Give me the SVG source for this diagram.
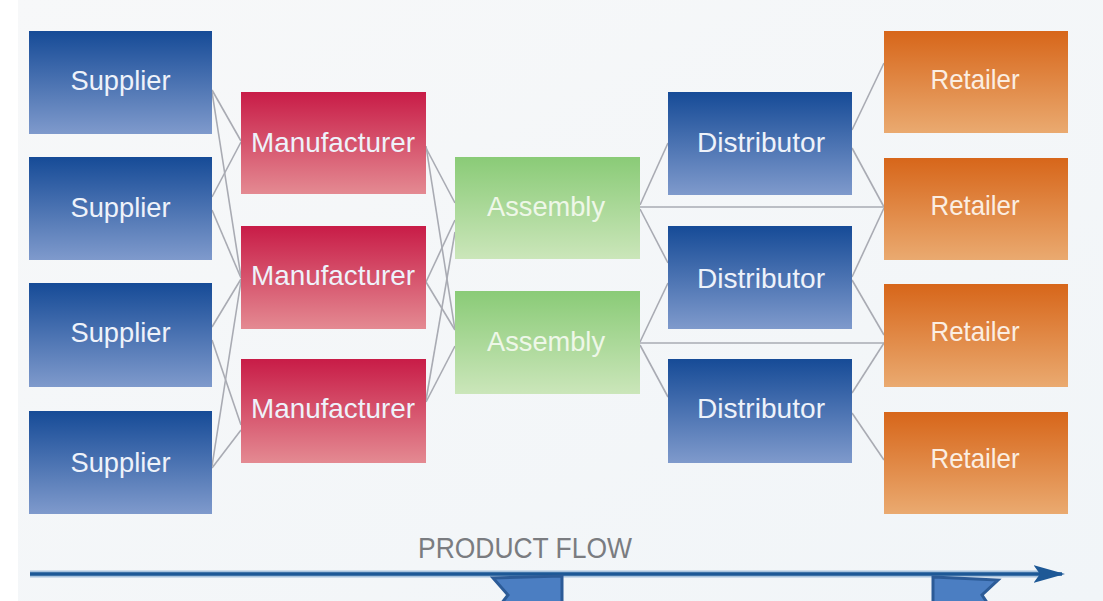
<svg xmlns="http://www.w3.org/2000/svg" width="1103" height="601" viewBox="0 0 1103 601">
<defs>
<linearGradient id="gBlue" x1="0" y1="0" x2="0" y2="1"><stop offset="0" stop-color="#164b97"/><stop offset="1" stop-color="#7f9acc"/></linearGradient>
<linearGradient id="gRed" x1="0" y1="0" x2="0" y2="1"><stop offset="0" stop-color="#c81c47"/><stop offset="1" stop-color="#e48a92"/></linearGradient>
<linearGradient id="gGreen" x1="0" y1="0" x2="0" y2="1"><stop offset="0" stop-color="#8acb77"/><stop offset="1" stop-color="#cbe6ba"/></linearGradient>
<linearGradient id="gOrange" x1="0" y1="0" x2="0" y2="1"><stop offset="0" stop-color="#d7661a"/><stop offset="1" stop-color="#eaaa70"/></linearGradient>
<linearGradient id="gBg" x1="0" y1="0" x2="1" y2="1"><stop offset="0" stop-color="#f7f8f9"/><stop offset="1" stop-color="#f1f5f8"/></linearGradient>
<marker id="arrowHead" viewBox="0 0 10 10" refX="9" refY="5" markerWidth="9" markerHeight="5" markerUnits="strokeWidth" orient="auto" preserveAspectRatio="none"><path d="M0,0 L10,5 L0,10 L2,5 Z" fill="#1d5896"/></marker>
</defs>
<style>
.box{stroke:none}
.blue{fill:url(#gBlue)}
.red{fill:url(#gRed)}
.green{fill:url(#gGreen)}
.orange{fill:url(#gOrange)}
.lbl{font-family:"Liberation Sans",Arial,sans-serif;font-size:28px;fill:#eef2fa;text-anchor:middle}
.lblG{fill:#eef7e8}
.lblO{fill:#fbeee2}
.conn line{stroke:#a9abb3;stroke-width:1.6;fill:none}
.ribbon{fill:#4b7ec2;stroke:#2c5b97;stroke-width:3;stroke-linejoin:miter}
</style>
<rect x="0" y="0" width="1103" height="601" fill="url(#gBg)"/>
<rect x="0" y="0" width="18" height="601" fill="#ffffff"/>

<g id="connectors" class="conn">
<line x1="212" y1="90" x2="241" y2="141"/>
<line x1="212" y1="92" x2="241" y2="277"/>
<line x1="212" y1="197" x2="241" y2="142"/>
<line x1="212" y1="210" x2="241" y2="278"/>
<line x1="212" y1="327" x2="241" y2="279"/>
<line x1="212" y1="340" x2="241" y2="425"/>
<line x1="212" y1="468" x2="241" y2="430"/>
<line x1="212" y1="466" x2="241" y2="281"/>

<line x1="426" y1="148" x2="455" y2="203"/>
<line x1="426" y1="146" x2="455" y2="330"/>
<line x1="426" y1="282" x2="455" y2="220"/>
<line x1="426" y1="282" x2="455" y2="330"/>
<line x1="426" y1="400" x2="455" y2="232"/>
<line x1="426" y1="402" x2="455" y2="346"/>

<line x1="640" y1="205" x2="668" y2="143"/>
<line x1="640" y1="207" x2="884" y2="207"/>
<line x1="640" y1="209" x2="668" y2="263"/>
<line x1="640" y1="342" x2="668" y2="283"/>
<line x1="640" y1="343" x2="884" y2="343"/>
<line x1="640" y1="345" x2="668" y2="397"/>

<line x1="852" y1="130" x2="884" y2="63"/>
<line x1="852" y1="148" x2="884" y2="207"/>
<line x1="852" y1="277" x2="884" y2="208"/>
<line x1="852" y1="280" x2="884" y2="335"/>
<line x1="852" y1="393" x2="884" y2="343"/>
<line x1="852" y1="413" x2="884" y2="460"/>
</g>

<g id="supplier1"><rect class="box blue" x="29" y="31" width="183" height="103"/><text class="lbl" x="120.5" y="90" textLength="100" lengthAdjust="spacingAndGlyphs">Supplier</text></g>
<g id="supplier2"><rect class="box blue" x="29" y="157" width="183" height="103"/><text class="lbl" x="120.5" y="217" textLength="100" lengthAdjust="spacingAndGlyphs">Supplier</text></g>
<g id="supplier3"><rect class="box blue" x="29" y="283" width="183" height="104"/><text class="lbl" x="120.5" y="342" textLength="100" lengthAdjust="spacingAndGlyphs">Supplier</text></g>
<g id="supplier4"><rect class="box blue" x="29" y="411" width="183" height="103"/><text class="lbl" x="120.5" y="472" textLength="100" lengthAdjust="spacingAndGlyphs">Supplier</text></g>

<g id="manufacturer1"><rect class="box red" x="241" y="92" width="185" height="102"/><text class="lbl" x="333" y="152" textLength="164" lengthAdjust="spacingAndGlyphs">Manufacturer</text></g>
<g id="manufacturer2"><rect class="box red" x="241" y="226" width="185" height="103"/><text class="lbl" x="333" y="285" textLength="164" lengthAdjust="spacingAndGlyphs">Manufacturer</text></g>
<g id="manufacturer3"><rect class="box red" x="241" y="359" width="185" height="104"/><text class="lbl" x="333" y="418" textLength="164" lengthAdjust="spacingAndGlyphs">Manufacturer</text></g>

<g id="assembly1"><rect class="box green" x="455" y="157" width="185" height="102"/><text class="lbl lblG" x="546" y="216" textLength="118" lengthAdjust="spacingAndGlyphs">Assembly</text></g>
<g id="assembly2"><rect class="box green" x="455" y="291" width="185" height="103"/><text class="lbl lblG" x="546" y="351" textLength="118" lengthAdjust="spacingAndGlyphs">Assembly</text></g>

<g id="distributor1"><rect class="box blue" x="668" y="92" width="184" height="103"/><text class="lbl" x="761" y="152" textLength="128" lengthAdjust="spacingAndGlyphs">Distributor</text></g>
<g id="distributor2"><rect class="box blue" x="668" y="226" width="184" height="103"/><text class="lbl" x="761" y="288" textLength="128" lengthAdjust="spacingAndGlyphs">Distributor</text></g>
<g id="distributor3"><rect class="box blue" x="668" y="359" width="184" height="104"/><text class="lbl" x="761" y="418" textLength="128" lengthAdjust="spacingAndGlyphs">Distributor</text></g>

<g id="retailer1"><rect class="box orange" x="884" y="31" width="184" height="102"/><text class="lbl lblO" x="975" y="89" textLength="89" lengthAdjust="spacingAndGlyphs">Retailer</text></g>
<g id="retailer2"><rect class="box orange" x="884" y="158" width="184" height="102"/><text class="lbl lblO" x="975" y="215" textLength="89" lengthAdjust="spacingAndGlyphs">Retailer</text></g>
<g id="retailer3"><rect class="box orange" x="884" y="284" width="184" height="103"/><text class="lbl lblO" x="975" y="341" textLength="89" lengthAdjust="spacingAndGlyphs">Retailer</text></g>
<g id="retailer4"><rect class="box orange" x="884" y="412" width="184" height="102"/><text class="lbl lblO" x="975" y="468" textLength="89" lengthAdjust="spacingAndGlyphs">Retailer</text></g>

<g id="product-flow">
<text x="418" y="558" font-family="'Liberation Sans',Arial,sans-serif" font-size="29" fill="#7a7c80" textLength="214" lengthAdjust="spacingAndGlyphs">PRODUCT FLOW</text>
<line x1="30" y1="574" x2="1040" y2="574" stroke="#a9c3dd" stroke-width="7"/>
<line x1="30" y1="574" x2="1062" y2="574" stroke="#1d5896" stroke-width="3.5" marker-end="url(#arrowHead)"/>
</g>

<g id="ribbons">
<polygon class="ribbon" points="493,578 562,576 562,604 501,604 508,595"/>
<polygon class="ribbon" points="933,577 998,580 982,595 988,604 933,604"/>
</g>
</svg>
